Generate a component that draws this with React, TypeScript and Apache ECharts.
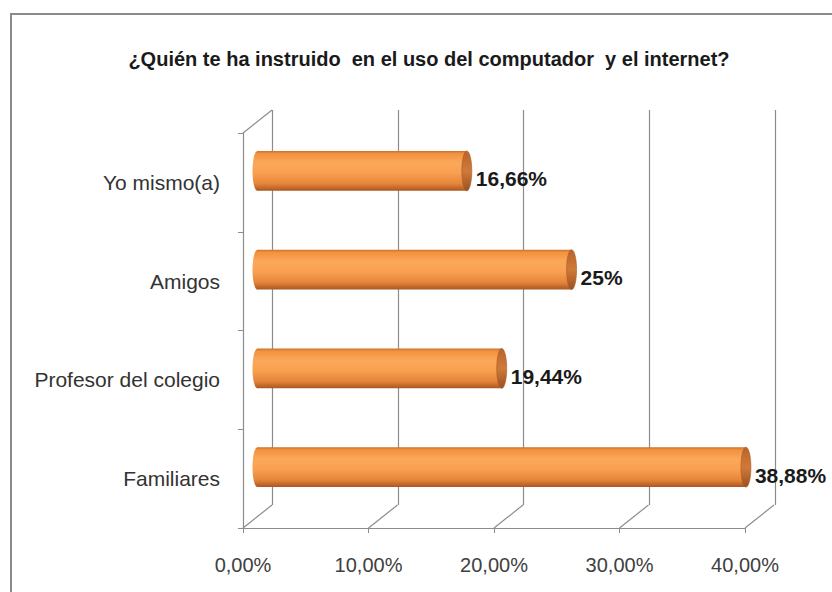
import React, { useEffect, useRef } from "react";
import * as echarts from "echarts";

const title = "¿Quién te ha instruido  en el uso del computador  y el internet?";
const categories = ["Yo mismo(a)", "Amigos", "Profesor del colegio", "Familiares"];
const values = [16.66, 25, 19.44, 38.88];
const valueLabels = ["16,66%", "25%", "19,44%", "38,88%"];
const xMin = 0;
const xMax = 40;
const xInterval = 10;

const FONT = "Liberation Sans";
const AXIS_COLOR = "#8c8c8c";

// layout of the pseudo-3D box: front plane, back plane and middle (bar) plane
const FRONT = { left: 243, top: 133, width: 502, height: 395 };
const DX = 29;
const DY = -23;
const BACK = { left: FRONT.left + DX, top: FRONT.top + DY, width: FRONT.width + 1, height: FRONT.height };
const MID = { left: FRONT.left + DX / 2, top: FRONT.top + DY / 2, width: FRONT.width + 0.5, height: FRONT.height };

const fmtPct = (v: number) => v.toFixed(2).replace(".", ",") + "%";

export default function App() {
  const ref = useRef<HTMLDivElement>(null);
  useEffect(() => {
    if (!ref.current) return;
    const chart = echarts.init(ref.current, null, { renderer: "svg" });

    const ticks: number[] = [];
    for (let v = xMin; v <= xMax; v += xInterval) ticks.push(v);
    const step = FRONT.width / ((xMax - xMin) / xInterval);
    const floorLines = ticks.map((_, i) => ({
      type: "line",
      shape: {
        x1: FRONT.left + i * step,
        y1: FRONT.top + FRONT.height,
        x2: FRONT.left + i * step + DX,
        y2: FRONT.top + FRONT.height + DY,
      },
      style: { stroke: AXIS_COLOR, lineWidth: 1.2 },
      silent: true,
    }));

    const bodyGrad = () =>
      new echarts.graphic.LinearGradient(0, 0, 0, 1, [
        { offset: 0, color: "#c9702c" },
        { offset: 0.07, color: "#f2923f" },
        { offset: 0.3, color: "#fba85a" },
        { offset: 0.55, color: "#f9a052" },
        { offset: 0.82, color: "#e6853a" },
        { offset: 1, color: "#a9561f" },
      ]);
    const capGrad = () =>
      new echarts.graphic.LinearGradient(0, 0, 0, 1, [
        { offset: 0, color: "#b8642a" },
        { offset: 0.5, color: "#cf7a3a" },
        { offset: 1, color: "#9c501f" },
      ]);

    chart.setOption({
      animation: false,
      backgroundColor: "#ffffff",
      title: {
        text: title,
        left: 424,
        top: 44,
        textAlign: "center",
        textStyle: { fontFamily: FONT, fontSize: 20, fontWeight: "bold", color: "#1a1a1a" },
      },
      grid: [
        { left: FRONT.left, top: FRONT.top, width: FRONT.width, height: FRONT.height },
        { left: BACK.left, top: BACK.top, width: BACK.width, height: BACK.height },
        { left: MID.left, top: MID.top, width: MID.width, height: MID.height },
      ],
      xAxis: [
        {
          gridIndex: 0,
          type: "value",
          min: xMin,
          max: xMax,
          interval: xInterval,
          axisLine: { show: true, lineStyle: { color: AXIS_COLOR, width: 1.2 } },
          axisTick: { show: true, length: 5, lineStyle: { color: AXIS_COLOR } },
          splitLine: { show: false },
          axisLabel: {
            formatter: (v: number) => fmtPct(v),
            fontFamily: FONT,
            fontSize: 20,
            color: "#404040",
            margin: 27,
          },
        },
        {
          gridIndex: 1,
          type: "value",
          min: xMin,
          max: xMax,
          interval: xInterval,
          axisLine: { show: false },
          axisTick: { show: false },
          axisLabel: { show: false },
          splitLine: { show: true, lineStyle: { color: AXIS_COLOR, width: 1.2 } },
        },
        {
          gridIndex: 2,
          type: "value",
          min: xMin,
          max: xMax,
          interval: xInterval,
          show: false,
        },
      ],
      yAxis: [
        {
          gridIndex: 0,
          type: "category",
          data: categories,
          inverse: true,
          axisLine: { show: true, lineStyle: { color: AXIS_COLOR, width: 1.2 } },
          axisTick: { show: true, length: 5, lineStyle: { color: AXIS_COLOR } },
          axisLabel: { fontFamily: FONT, fontSize: 21, color: "#333333", margin: 23 },
          splitLine: { show: false },
        },
        {
          gridIndex: 1,
          type: "category",
          data: categories,
          inverse: true,
          show: false,
        },
        {
          gridIndex: 2,
          type: "category",
          data: categories,
          inverse: true,
          show: false,
        },
      ],
      graphic: [
        {
          type: "rect",
          shape: { x: 11, y: 14, width: 1000, height: 1000 },
          style: { fill: "none", stroke: "#8a8a8a", lineWidth: 2 },
          silent: true,
          z: -10,
        },
        {
          type: "line",
          shape: { x1: FRONT.left, y1: FRONT.top, x2: FRONT.left + DX, y2: FRONT.top + DY },
          style: { stroke: AXIS_COLOR, lineWidth: 1.2 },
          silent: true,
        },
        ...floorLines,
      ],
      series: [
        {
          type: "custom",
          xAxisIndex: 2,
          yAxisIndex: 2,
          data: values.map((v, i) => [v, i]),
          renderItem: (params: any, api: any) => {
            const v = api.value(0);
            const c = api.value(1);
            const s = api.coord([0, c]);
            const e = api.coord([v, c]);
            const h = api.size([0, 1])[1] * 0.405;
            const rx = 5;
            return {
              type: "group",
              children: [
                {
                  type: "ellipse",
                  shape: { cx: s[0], cy: s[1], rx, ry: h / 2 },
                  style: { fill: bodyGrad() },
                },
                {
                  type: "rect",
                  shape: { x: s[0], y: s[1] - h / 2, width: e[0] - s[0], height: h },
                  style: { fill: bodyGrad() },
                },
                {
                  type: "ellipse",
                  shape: { cx: e[0], cy: e[1], rx, ry: h / 2 },
                  style: { fill: capGrad(), stroke: "#a85a26", lineWidth: 0.6 },
                },
                {
                  type: "text",
                  x: e[0] + rx + 4,
                  y: e[1] + 8,
                  style: {
                    text: valueLabels[params.dataIndex],
                    fontFamily: FONT,
                    fontSize: 21,
                    fontWeight: "bold",
                    fill: "#1a1a1a",
                    verticalAlign: "middle",
                    align: "left",
                  },
                },
              ],
            };
          },
        },
      ],
    });
    return () => chart.dispose();
  }, []);
  return (
    <div
      ref={ref}
      style={{ position: "fixed", left: 0, top: 0, width: 832, height: 592 }}
    />
  );
}
